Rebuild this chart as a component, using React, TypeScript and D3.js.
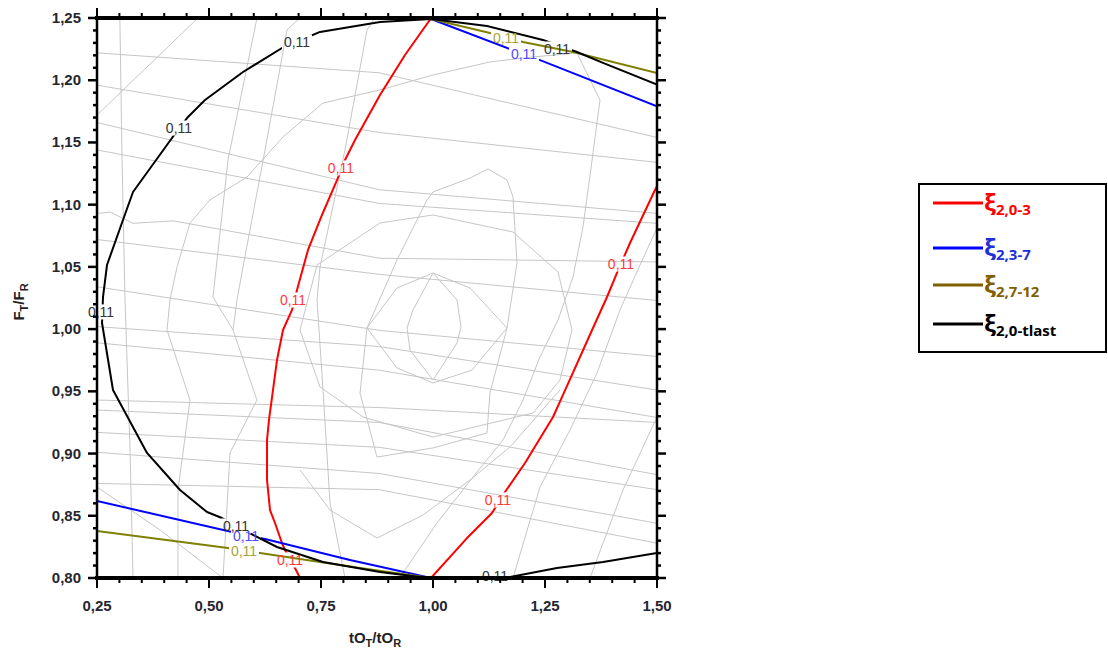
import React from 'react';
import * as d3 from 'd3';

type Pt = [number, number];

// ---- axes ----
const X_DOMAIN: [number, number] = [0.25, 1.5];
const Y_DOMAIN: [number, number] = [0.8, 1.25];
const xTickValues = [0.25, 0.5, 0.75, 1.0, 1.25, 1.5];
const xTickLabels = ['0,25', '0,50', '0,75', '1,00', '1,25', '1,50'];
const yTickValues = [0.8, 0.85, 0.9, 0.95, 1.0, 1.05, 1.1, 1.15, 1.2, 1.25];
const yTickLabels = ['0,80', '0,85', '0,90', '0,95', '1,00', '1,05', '1,10', '1,15', '1,20', '1,25'];

// ---- 0,11 isolines ----
const xi03Left: Pt[] = [
  [0.996, 1.25], [0.9375, 1.2203], [0.8817, 1.1881], [0.8259, 1.152], [0.8036, 1.1359],
  [0.7857, 1.1198], [0.7522, 1.0917], [0.721, 1.0636], [0.6964, 1.0314], [0.6853, 1.0154],
  [0.6652, 0.9993], [0.6518, 0.9752], [0.6429, 0.9511], [0.6339, 0.927], [0.6295, 0.9109],
  [0.6295, 0.8788], [0.6362, 0.8546], [0.6473, 0.8442], [0.6629, 0.8281], [0.6696, 0.8225],
  [0.6942, 0.8064], [0.7031, 0.8],
];
const xi03Right: Pt[] = [
  [0.9955, 0.8], [1.0759, 0.8321], [1.1317, 0.8522], [1.1607, 0.8691], [1.2054, 0.8924],
  [1.2679, 0.9294], [1.2902, 0.9471], [1.3571, 1.0009], [1.3884, 1.0258], [1.4107, 1.0451],
  [1.4397, 1.0692], [1.4955, 1.1118], [1.5, 1.115],
];
const xi03Labels: Pt[] = [[0.7946, 1.1295], [0.6875, 1.0234], [0.6808, 0.8145], [1.145, 0.8627], [1.4196, 1.0523]];

const xi37Upper: Pt[] = [[0.9955, 1.2492], [1.1719, 1.2251], [1.2433, 1.2155], [1.5, 1.179]];
const xi37Lower: Pt[] = [[0.25, 0.8619], [0.5513, 0.837], [0.625, 0.8313], [0.8147, 0.8145], [0.9955, 0.8]];
const xi37Labels: Pt[] = [[1.2031, 1.2211], [0.5826, 0.8338]];

const xi712Upper: Pt[] = [[0.9955, 1.2492], [1.1272, 1.238], [1.2009, 1.2307], [1.3125, 1.2227], [1.5, 1.2058]];
const xi712Lower: Pt[] = [[0.25, 0.8378], [0.5424, 0.8241], [0.6138, 0.8201], [0.837, 0.808], [0.9955, 0.8]];
const xi712Labels: Pt[] = [[1.163, 1.234], [0.5781, 0.8217]];

const xiTlast: Pt[] = [
  [1.5, 1.1965], [1.3795, 1.2139], [1.3214, 1.2227], [1.2455, 1.2323], [1.1205, 1.2436],
  [0.9955, 1.2492], [0.8817, 1.2468], [0.7478, 1.2388], [0.6629, 1.2259], [0.5759, 1.2066],
  [0.4911, 1.1841], [0.4531, 1.1705], [0.4174, 1.1536], [0.3304, 1.1102], [0.308, 1.0877],
  [0.2723, 1.0515], [0.2634, 1.0258], [0.2612, 1.0049], [0.2857, 0.9511], [0.3616, 0.9005],
  [0.4353, 0.8707], [0.4955, 0.853], [0.529, 0.8482], [0.5982, 0.8346], [0.6518, 0.8249],
  [0.7545, 0.8129], [0.8817, 0.8048], [0.971, 0.8008], [0.9955, 0.8], [1.0826, 0.8],
  [1.1719, 0.8008], [1.2768, 0.808], [1.3795, 0.8129], [1.5, 0.8201],
];
const xiTlastLabels: Pt[] = [
  [1.2768, 1.2251], [0.6964, 1.2307], [0.433, 1.1616], [0.2589, 1.0138], [0.5603, 0.8418], [1.1384, 0.8016],
];

// ---- other isolines (thin grey) ----
const greyFlat: Pt[][] = [
  [[0.25, 1.222], [0.88, 1.206], [1.5, 1.154]],
  [[0.25, 1.196], [0.88, 1.158], [1.5, 1.134]],
  [[0.25, 1.166], [0.88, 1.112], [1.5, 1.093]],
  [[0.25, 1.144], [0.88, 1.101], [1.5, 1.085]],
  [[0.25, 1.093], [0.28, 1.094], [0.33, 1.085], [0.42, 1.087], [0.88, 1.057], [1.5, 1.054]],
  [[0.25, 1.072], [0.88, 1.044], [1.5, 1.023]],
  [[0.25, 1.034], [0.88, 0.999], [1.5, 0.978]],
  [[0.25, 1.002], [0.88, 0.986], [1.5, 0.951]],
  [[0.25, 0.989], [0.88, 0.967], [1.5, 0.929]],
  [[0.25, 0.943], [0.88, 0.937], [1.5, 0.925]],
  [[0.25, 0.935], [0.88, 0.925], [1.5, 0.883]],
  [[0.25, 0.917], [0.88, 0.905], [1.5, 0.871]],
  [[0.25, 0.901], [0.88, 0.884], [1.5, 0.844]],
  [[0.25, 0.876], [0.88, 0.871], [1.5, 0.828]],
];
const greySteep: Pt[][] = [
  [[0.301, 1.25], [0.306, 1.136], [0.3125, 1.0234], [0.3237, 0.9029], [0.3304, 0.8]],
  [[0.6071, 1.25], [0.5424, 1.1359], [0.5089, 1.0258], [0.5536, 0.9993], [0.6071, 0.943], [0.5469, 0.9005], [0.5313, 0.8]],
  [[0.7031, 1.25], [0.6741, 1.2404], [0.625, 1.1439], [0.5759, 1.0499], [0.5625, 1.0234], [0.5536, 0.9993]],
  [[0.8705, 1.25], [0.8527, 1.2404], [0.8036, 1.1439], [0.7478, 1.0499], [0.7411, 1.0234], [0.7545, 0.9511], [0.7701, 0.8603], [0.8036, 0.8]],
  [[1.5, 1.0813], [1.462, 1.0515], [1.4174, 1.0154], [1.3661, 0.9647], [1.3058, 0.9189], [1.2388, 0.8731], [1.1786, 0.8]],
  [[1.5, 0.9294], [1.4241, 0.8707], [1.3504, 0.8]],
  [[0.25, 1.172], [0.4754, 1.25]],
  [[0.25, 0.8731], [0.3906, 0.8386], [0.5313, 0.8]],
];
const greyLoops: Pt[][] = [
  [[1.0, 1.0451], [1.0536, 1.0234], [1.0625, 1.0017], [1.0536, 0.9888], [1.0, 0.9591], [0.9487, 0.9832], [0.942, 1.0009], [0.9554, 1.0154], [1.0, 1.0451]],
  [[1.0, 1.0451], [1.0826, 1.033], [1.1652, 1.0009], [1.0871, 0.9671], [1.0, 0.9567], [0.9196, 0.9688], [0.8527, 1.0009], [0.9196, 1.033], [1.0, 1.0451]],
  [[1.0, 1.0917], [1.1786, 1.078], [1.279, 1.0459], [1.3103, 0.9993], [1.2835, 0.9591], [1.2232, 0.9326], [1.0, 0.9133], [0.8438, 0.9294], [0.7478, 0.9535], [0.7031, 0.9993], [0.7411, 1.0515], [0.8817, 1.0853], [1.0, 1.0917]],
  [[1.0, 1.1102], [1.0826, 1.1214], [1.1228, 1.1287], [1.1652, 1.1198], [1.1786, 1.1062], [1.1875, 1.0531], [1.1652, 1.0009], [1.1272, 0.9487], [1.1205, 0.9165], [1.0, 0.9045], [0.875, 0.8972], [0.8371, 0.9487], [0.8527, 1.0009], [0.9196, 1.0555], [0.9866, 1.1038], [1.0, 1.1102]],
  [[0.4308, 0.8], [0.4308, 0.8707], [0.4576, 0.943], [0.4063, 0.9993], [0.4129, 1.0234], [0.4286, 1.0499], [0.4576, 1.0853], [0.5022, 1.1038], [0.5848, 1.1222], [0.6652, 1.1544], [0.7545, 1.1817], [0.8817, 1.1922], [1.0, 1.2042], [1.1272, 1.2147], [1.2232, 1.2187], [1.3214, 1.2219], [1.3728, 1.1841], [1.35, 1.1222], [1.3348, 1.0821], [1.3125, 1.0419], [1.279, 1.0073], [1.2388, 0.9776], [1.2009, 0.943], [1.1563, 0.9109], [1.0893, 0.8812], [1.0089, 0.8442], [0.933, 0.804], [0.9219, 0.8]],
  [[0.7031, 0.8868], [0.7701, 0.8546], [0.875, 0.8321], [0.9777, 0.8506], [1.0826, 0.8788], [1.1719, 0.9053], [1.2835, 0.9511]],
];

// ---- legend ----
const legendSubs = ['2,0-3', '2,3-7', '2,7-12', '2,0-tlast'];
const legendColors = ['#ff0000', '#0000ff', '#7f6000', '#000000'];
const legendTextColors = ['#ff0000', '#1f2fd8', '#7f6000', '#000000'];

const series = [
  { key: 'a', color: '#ff0000', labelColor: '#ff3a3a', lines: [xi03Left, xi03Right], labels: xi03Labels },
  { key: 'b', color: '#0000ff', labelColor: '#4b4bff', lines: [xi37Upper, xi37Lower], labels: xi37Labels },
  { key: 'c', color: '#808000', labelColor: '#a8a238', lines: [xi712Upper, xi712Lower], labels: xi712Labels },
  { key: 'd', color: '#000000', labelColor: '#333333', lines: [xiTlast], labels: xiTlastLabels },
];

const W = 1108;
const H = 652;
const M = { left: 97, right: 657, top: 18, bottom: 578 };

export default function App() {
  const x = d3.scaleLinear().domain(X_DOMAIN).range([M.left, M.right]);
  const y = d3.scaleLinear().domain(Y_DOMAIN).range([M.bottom, M.top]);
  const line = d3.line<Pt>().x((d) => x(d[0])).y((d) => y(d[1]));

  const xMinor = d3.range(0, 26).map((i) => 0.25 + i * 0.05);
  const yMinor = d3.range(0, 46).map((i) => 0.8 + i * 0.01);
  const isMajorX = (v: number) => Math.abs(v / 0.25 - Math.round(v / 0.25)) < 1e-6;
  const isMajorY = (v: number) => Math.abs(v / 0.05 - Math.round(v / 0.05)) < 1e-6;

  const tickFont = { fontFamily: '"Liberation Sans", Arial, sans-serif', fontWeight: 700, fontSize: 15, fill: '#26262e' };
  const labelW = 30;
  const labelH = 15;

  return (
    <svg width={W} height={H} style={{ position: 'absolute', left: 0, top: 0, background: '#fff' }}>
      <defs>
        <clipPath id="plot">
          <rect x={M.left} y={M.top} width={M.right - M.left} height={M.bottom - M.top} />
        </clipPath>
        {series.map((s) => (
          <mask key={s.key} id={`gap-${s.key}`} maskUnits="userSpaceOnUse" x={0} y={0} width={W} height={H}>
            <rect x={0} y={0} width={W} height={H} fill="#fff" />
            {s.labels.map((p, i) => (
              <rect key={i} x={x(p[0]) - labelW / 2} y={y(p[1]) - labelH / 2} width={labelW} height={labelH} fill="#000" />
            ))}
          </mask>
        ))}
      </defs>

      <rect x={0} y={0} width={W} height={H} fill="#fff" />

      <g clipPath="url(#plot)" fill="none" stroke="#c6c6c6" strokeWidth={1}>
        {[...greyFlat, ...greySteep, ...greyLoops].map((pts, i) => (
          <path key={i} d={line(pts) || ''} />
        ))}
      </g>

      <g clipPath="url(#plot)">
        {series.map((s) => (
          <g key={s.key} mask={`url(#gap-${s.key})`} fill="none" stroke={s.color} strokeWidth={2} strokeLinejoin="round">
            {s.lines.map((pts, i) => (
              <path key={i} d={line(pts) || ''} />
            ))}
          </g>
        ))}
      </g>

      {series.map((s) => (
        <g key={s.key} fill={s.labelColor} fontFamily='"Liberation Sans", Arial, sans-serif' fontSize={14} textAnchor="middle">
          {s.labels.map((p, i) => (
            <text key={i} x={x(p[0])} y={y(p[1]) + 5}>0,11</text>
          ))}
        </g>
      ))}

      {/* frame */}
      <g stroke="#000" strokeLinecap="square">
        <line x1={M.left} x2={M.right} y1={M.top} y2={M.top} strokeWidth={4} />
        <line x1={M.left} x2={M.right} y1={M.bottom} y2={M.bottom} strokeWidth={4} />
        <line x1={M.left} x2={M.left} y1={M.top} y2={M.bottom} strokeWidth={2.5} />
        <line x1={M.right} x2={M.right} y1={M.top} y2={M.bottom} strokeWidth={2.5} />
      </g>

      {/* ticks */}
      <g stroke="#000" strokeWidth={2}>
        {xMinor.map((v, i) => {
          const len = isMajorX(v) ? 10 : 5;
          return (
            <g key={i}>
              <line x1={x(v)} x2={x(v)} y1={M.bottom} y2={M.bottom + len} />
              <line x1={x(v)} x2={x(v)} y1={M.top} y2={M.top - len} />
            </g>
          );
        })}
        {yMinor.map((v, i) => {
          const len = isMajorY(v) ? 9 : 4;
          return (
            <g key={i}>
              <line x1={M.left} x2={M.left - len} y1={y(v)} y2={y(v)} strokeWidth={2.5} />
              <line x1={M.right} x2={M.right + len} y1={y(v)} y2={y(v)} strokeWidth={2.5} />
            </g>
          );
        })}
      </g>

      {/* tick labels */}
      <g {...tickFont}>
        {xTickValues.map((v, i) => (
          <text key={i} x={x(v)} y={611} textAnchor="middle">{xTickLabels[i]}</text>
        ))}
        {yTickValues.map((v, i) => (
          <text key={i} x={81} y={y(v) + 5} textAnchor="end">{yTickLabels[i]}</text>
        ))}
      </g>

      {/* axis titles */}
      <text x={375} y={643} textAnchor="middle" fontFamily='"Liberation Sans", Arial, sans-serif' fontWeight={700} fontSize={15} fill="#222">
        tO<tspan dy={4} fontSize={11}>T</tspan><tspan dy={-4}>/tO</tspan><tspan dy={4} fontSize={11}>R</tspan>
      </text>
      <text transform="translate(24,302) rotate(-90)" textAnchor="middle" fontFamily='"Liberation Sans", Arial, sans-serif' fontWeight={700} fontSize={15} fill="#222">
        F<tspan dy={4} fontSize={11}>T</tspan><tspan dy={-4}>/F</tspan><tspan dy={4} fontSize={11}>R</tspan>
      </text>

      {/* legend */}
      <rect x={919} y={184} width={187} height={168} fill="#fff" stroke="#000" strokeWidth={2} />
      {legendSubs.map((sub, i) => {
        const ly = [203, 248, 285, 324][i];
        return (
          <g key={i}>
            <line x1={933} x2={983} y1={ly} y2={ly} stroke={legendColors[i]} strokeWidth={3} />
            <text x={984} y={ly + 8} fill={legendTextColors[i]} fontFamily='"Open Sans", "Noto Sans", sans-serif' fontWeight={700}>
              <tspan fontSize={24}>ξ</tspan>
              <tspan fontSize={15} dy={4}>{sub}</tspan>
            </text>
          </g>
        );
      })}
    </svg>
  );
}
